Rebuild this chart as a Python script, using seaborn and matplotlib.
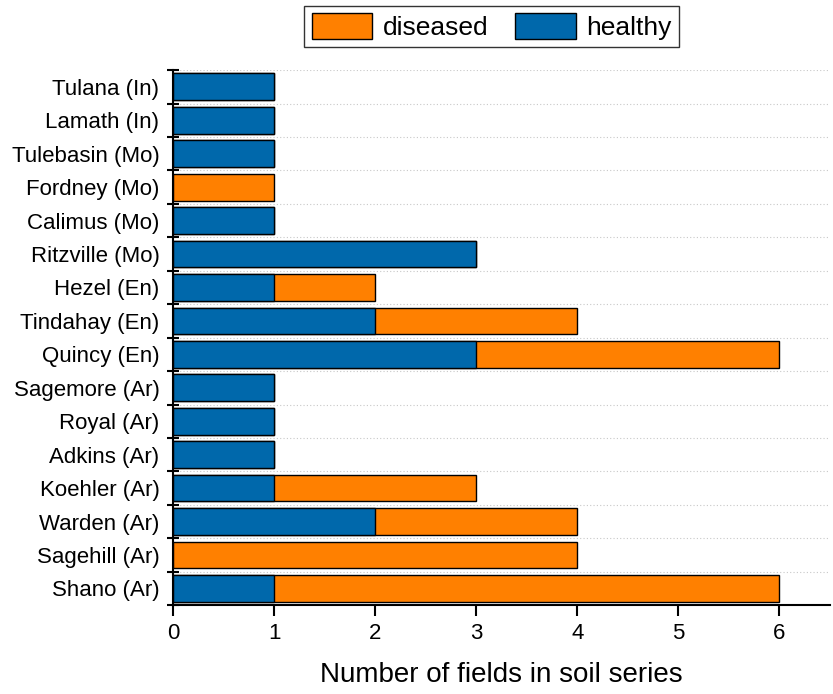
import matplotlib
matplotlib.use("Agg")
import matplotlib.pyplot as plt
import seaborn as sns
import pandas as pd
import numpy as np
from matplotlib.patches import Patch

# soil series, listed top to bottom as in the chart
series = ["Tulana (In)", "Lamath (In)", "Tulebasin (Mo)", "Fordney (Mo)",
          "Calimus (Mo)", "Ritzville (Mo)", "Hezel (En)", "Tindahay (En)",
          "Quincy (En)", "Sagemore (Ar)", "Royal (Ar)", "Adkins (Ar)",
          "Koehler (Ar)", "Warden (Ar)", "Sagehill (Ar)", "Shano (Ar)"]
healthy = [1, 1, 1, 0, 1, 3, 1, 2, 3, 1, 1, 1, 1, 2, 0, 1]
diseased = [0, 0, 0, 1, 0, 0, 1, 2, 3, 0, 0, 0, 2, 2, 4, 5]
x_ticks = [0, 1, 2, 3, 4, 5, 6]

df = pd.DataFrame({"series": series, "healthy": healthy, "diseased": diseased})
df["total"] = df["healthy"] + df["diseased"]

c_dis = "#ff8000"
c_hea = "#0068ab"

sns.set_theme(style="white")
plt.rcParams["font.family"] = ["Liberation Sans", "DejaVu Sans"]
plt.rcParams["text.color"] = "black"
plt.rcParams["axes.labelcolor"] = "black"
plt.rcParams["xtick.color"] = "black"
plt.rcParams["ytick.color"] = "black"

fig = plt.figure(figsize=(8.33, 6.94), dpi=100)
ax = fig.add_axes([0.208, 0.128, 0.788, 0.771])

# total first (orange), healthy part drawn over it (blue)
sns.barplot(data=df, y="series", x="total", order=series, orient="h",
            color=c_dis, saturation=1, width=0.8, edgecolor="black",
            linewidth=1, ax=ax)
sns.barplot(data=df[df["healthy"] > 0], y="series", x="healthy", order=series,
            orient="h", color=c_hea, saturation=1, width=0.8,
            edgecolor="black", linewidth=1, ax=ax)

ax.set_xlim(0, 6.5)
ax.set_ylim(len(series) - 0.5, -0.5)
ax.set_xticks(x_ticks)
ax.set_yticks(np.arange(-0.5, len(series), 1.0), minor=True)
ax.tick_params(axis="y", which="major", length=0, labelsize=16, pad=10,
               labelcolor="black")
ax.tick_params(axis="y", which="minor", left=True, length=8, width=1.5,
               direction="inout", color="black")
ax.tick_params(axis="x", which="major", length=8, width=1.5, direction="out",
               color="black", labelsize=16, bottom=True, labelcolor="black",
               pad=5)
ax.grid(axis="y", which="minor", linestyle=(0, (1, 2)), color="#c8c8c8",
        linewidth=0.8)
ax.set_axisbelow(True)

for s in ["top", "right"]:
    ax.spines[s].set_visible(False)
for s in ["left", "bottom"]:
    ax.spines[s].set_color("black")
    ax.spines[s].set_linewidth(1.5)

ax.set_ylabel("")
ax.set_xlabel("Number of fields in soil series", fontsize=20, labelpad=13,
              color="black")

handles = [Patch(facecolor=c_dis, edgecolor="black", label="diseased"),
           Patch(facecolor=c_hea, edgecolor="black", label="healthy")]
leg = ax.legend(handles=handles, loc="upper center",
                bbox_to_anchor=(0.485, 1.12), ncol=2, fontsize=19,
                frameon=True, fancybox=False, edgecolor="black",
                handlelength=2.3, handleheight=1.1, columnspacing=1.0,
                handletextpad=0.4, borderpad=0.28, borderaxespad=0)
for t in leg.get_texts():
    t.set_color("black")

fig.savefig("out.png", dpi=100)
